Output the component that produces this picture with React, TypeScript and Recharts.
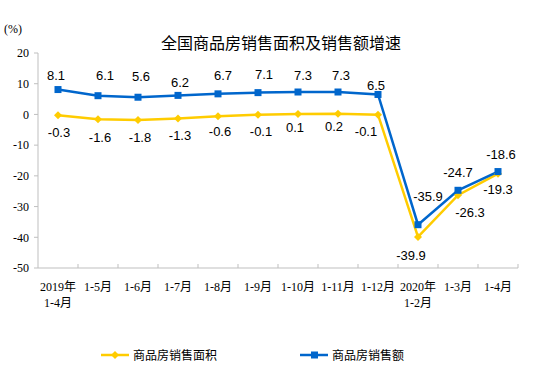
import React from 'react';
import { LineChart, Line, XAxis, YAxis, LabelList } from 'recharts';

const categories = ['2019年\n1-4月', '1-5月', '1-6月', '1-7月', '1-8月', '1-9月', '1-10月', '1-11月', '1-12月', '2020年\n1-2月', '1-3月', '1-4月'];
const areaGrowth = [-0.3, -1.6, -1.8, -1.3, -0.6, -0.1, 0.1, 0.2, -0.1, -39.9, -26.3, -19.3];
const salesGrowth = [8.1, 6.1, 5.6, 6.2, 6.7, 7.1, 7.3, 7.3, 6.5, -35.9, -24.7, -18.6];
const yTicks = [20, 10, 0, -10, -20, -30, -40, -50];

const AREA_NAME = '商品房销售面积';
const SALES_NAME = '商品房销售额';

// label nudges [dx, dy] relative to each point
const areaLabelOffsets = [[1, 17], [2, 18], [2, 18], [2, 17], [2, 15], [3, 17], [-3, 13], [-4, 13], [-12, 17], [-7, 19], [12, 17], [0, 16]];
const salesLabelOffsets = [[-2, -14], [7, -20], [3, -21], [2, -13], [5, -18], [6, -18], [5, -17], [3, -17], [-2, -9], [10, -28], [0, -18], [3, -17]];

const W = 549;
const H = 382;
const PLOT_LEFT = 38;
const PLOT_RIGHT = 518;
const PLOT_TOP = 53;
const PLOT_BOTTOM = 268;
const X_AXIS_H = 40;
const YELLOW = '#FFCC00';
const BLUE = '#0066CC';
const GRAY = '#BFBFBF';
const SERIF = '"Liberation Serif", "Noto Sans CJK SC", serif';
const SANS = '"Liberation Sans", Arial, sans-serif';
const CJK = '"Noto Sans CJK SC", sans-serif';

const data = categories.map((label, i) => ({ label, area: areaGrowth[i], sales: salesGrowth[i] }));

const XTick = (props: any) => {
  const { x, y, payload } = props;
  const half = (PLOT_RIGHT - PLOT_LEFT) / categories.length / 2;
  const lines = String(payload.value).split('\n');
  return (
    <g>
      <line x1={x + half} x2={x + half} y1={y} y2={y - 4} stroke={GRAY} strokeWidth={1} />
      <text x={x} y={y + 23} textAnchor="middle" fontSize={12} fontFamily={SERIF} fill="#000">
        {lines.map((l, i) => (
          <tspan key={i} x={x} dy={i === 0 ? 0 : 16}>{l}</tspan>
        ))}
      </text>
    </g>
  );
};

const Diamond = (p: any) => {
  const { cx, cy, index } = p;
  if (cx == null || cy == null) return <g key={index} />;
  const s = 4;
  return <polygon key={index} points={`${cx},${cy - s} ${cx + s},${cy} ${cx},${cy + s} ${cx - s},${cy}`} fill={YELLOW} />;
};

const Square = (p: any) => {
  const { cx, cy, index } = p;
  if (cx == null || cy == null) return <g key={index} />;
  return <rect key={index} x={cx - 3.5} y={cy - 3.5} width={7} height={7} fill={BLUE} />;
};

const makeLabel = (offsets: number[][]) => (props: any) => {
  const { x, y, value, index } = props;
  const [dx, dy] = offsets[index] || [0, 0];
  return (
    <text x={x + dx} y={y + dy} textAnchor="middle" dominantBaseline="central" fontSize={13} fontFamily={SANS} fill="#000">
      {value}
    </text>
  );
};

const LegendItem = ({ color, name, square }: { color: string; name: string; square: boolean }) => (
  <div style={{ display: 'flex', alignItems: 'center' }}>
    <svg width={28} height={10} style={{ marginRight: 4 }}>
      <line x1={0} x2={28} y1={5} y2={5} stroke={color} strokeWidth={2.5} />
      {square ? <rect x={11} y={1.5} width={7} height={7} fill={color} /> : <polygon points="14,1 18,5 14,9 10,5" fill={color} />}
    </svg>
    <span style={{ fontFamily: CJK, fontSize: 12, color: '#000' }}>{name}</span>
  </div>
);

export default function App() {
  return (
    <div style={{ position: 'absolute', left: 0, top: 0, width: W, height: H, background: '#fff' }}>
      <div style={{ position: 'absolute', left: 4, top: 22, fontFamily: SERIF, fontSize: 12 }}>(%)</div>
      <div style={{ position: 'absolute', left: 0, top: 31, width: 562, textAlign: 'center', fontFamily: CJK, fontSize: 16, lineHeight: '22px', color: '#000' }}>
        全国商品房销售面积及销售额增速
      </div>
      <LineChart
        width={W}
        height={H}
        data={data}
        margin={{ top: PLOT_TOP, right: W - PLOT_RIGHT, left: 0, bottom: H - PLOT_BOTTOM - X_AXIS_H }}
      >
        <XAxis
          dataKey="label"
          scale="band"
          height={X_AXIS_H}
          interval={0}
          tickLine={false}
          tickSize={0}
          tickMargin={0}
          axisLine={{ stroke: GRAY }}
          tick={<XTick />}
        />
        <XAxis xAxisId="top" dataKey="label" scale="band" orientation="top" height={0} tick={false} tickLine={false} axisLine={{ stroke: GRAY }} />
        <YAxis
          type="number"
          domain={[-50, 20]}
          ticks={yTicks}
          width={PLOT_LEFT}
          tickSize={4}
          tickMargin={5}
          axisLine={{ stroke: GRAY }}
          tickLine={{ stroke: GRAY }}
          tick={{ fontSize: 12, fontFamily: SERIF, fill: '#000' }}
        />
        <YAxis yAxisId="right" orientation="right" type="number" domain={[-50, 20]} width={0} tick={false} tickLine={false} axisLine={{ stroke: GRAY }} />
        <Line
          dataKey="area"
          name={AREA_NAME}
          stroke={YELLOW}
          strokeWidth={2.5}
          dot={Diamond}
          activeDot={false}
          isAnimationActive={false}
        >
          <LabelList dataKey="area" content={makeLabel(areaLabelOffsets)} />
        </Line>
        <Line
          dataKey="sales"
          name={SALES_NAME}
          stroke={BLUE}
          strokeWidth={2.5}
          dot={Square}
          activeDot={false}
          isAnimationActive={false}
        >
          <LabelList dataKey="sales" content={makeLabel(salesLabelOffsets)} />
        </Line>
      </LineChart>
      <div style={{ position: 'absolute', left: 101, top: 346, display: 'flex', gap: 0 }}>
        <div style={{ width: 199 }}>
          <LegendItem color={YELLOW} name={AREA_NAME} square={false} />
        </div>
        <LegendItem color={BLUE} name={SALES_NAME} square={true} />
      </div>
    </div>
  );
}
